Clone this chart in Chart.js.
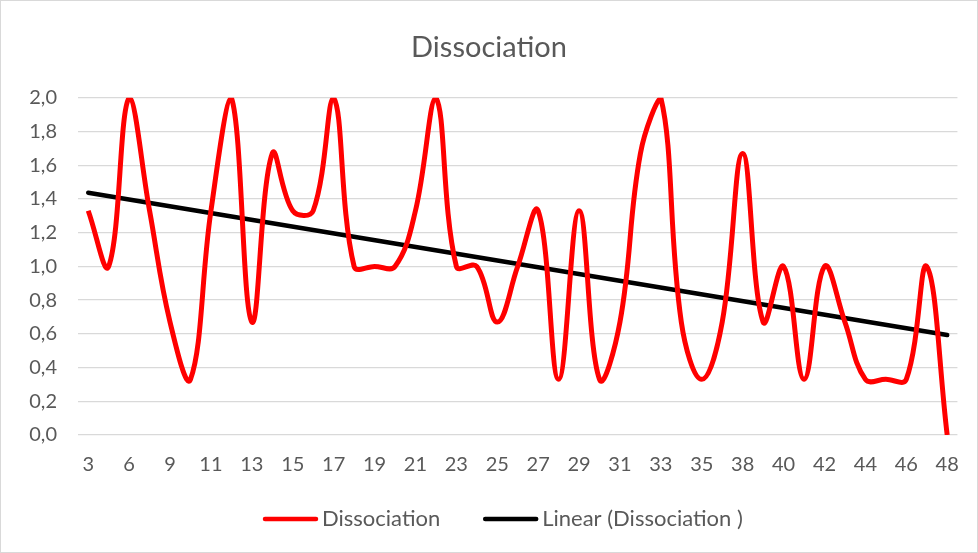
<!DOCTYPE html>
<html lang="en">
<head>
  <meta charset="UTF-8" />
  <title>Dissociation</title>
  <script src="https://cdn.jsdelivr.net/npm/chart.js"></script>
  <style>
    html, body { margin: 0; padding: 0; background: #fff; }
    .wrap {
      width: 976px; height: 551px;
      border: 1px solid #d9d9d9;
      position: relative;
    }
  </style>
</head>
<body>
  <div class="wrap">
    <canvas id="graph"></canvas>
  </div>

  <script>
    // categories (every other one is labelled on the axis)
    const categories = ['3', '5', '6', '8', '9', '10', '11', '12', '13', '14', '15', '16', '17', '18', '19', '20', '21', '22', '23', '24', '25', '26', '27', '28', '29', '30', '31', '32', '33', '34', '35', '37', '38', '39', '40', '41', '42', '43', '44', '45', '46', '47', '48'];

    // Dissociation values
    const dissociation = [1.33, 1.0, 2.0, 1.33, 0.67, 0.33, 1.33, 2.0, 0.67, 1.67,
                          1.33, 1.33, 2.0, 1.0, 1.0, 1.0, 1.33, 2.0, 1.0, 1.0,
                          0.67, 1.0, 1.33, 0.33, 1.33, 0.33, 0.67, 1.67, 2.0, 0.67,
                          0.33, 0.67, 1.67, 0.67, 1.0, 0.33, 1.0, 0.67, 0.33, 0.33,
                          0.33, 1.0, 0.0];

    // trend line end points (first and last category)
    const trendEnds = [1.437, 0.593];

    const yTicks = { min: 0, max: 2, step: 0.2 };

    const textColor = '#595959';
    const fontFamily = 'Lato, "Open Sans", sans-serif';

    // legend drawn under the axis, Excel style (line sample, then text)
    const bottomLegend = {
      id: 'bottomLegend',
      afterDraw(chart) {
        const c = chart.ctx;
        const y = 518;
        let x = 262;
        c.save();
        c.font = '22px ' + fontFamily;
        c.textBaseline = 'middle';
        c.textAlign = 'left';
        chart.data.datasets.forEach((ds, i) => {
          c.strokeStyle = ds.borderColor;
          c.lineWidth = 4.5;
          c.lineCap = 'round';
          c.beginPath();
          c.moveTo(x + 2, y);
          c.lineTo(x + 53, y);
          c.stroke();
          x += 59;
          c.fillStyle = textColor;
          c.fillText(ds.label, x, y);
          x += c.measureText(ds.label).width + 43;
        });
        c.restore();
      }
    };

    const ctx = document.getElementById('graph').getContext('2d');

    const chart = new Chart(ctx, {
      type: 'line',
      data: {
        labels: categories,
        datasets: [
          {
            label: 'Dissociation',
            data: dissociation,
            borderColor: '#ff0000',
            backgroundColor: '#ff0000',
            borderWidth: 5,
            pointRadius: 0,
            tension: 0.4,
            fill: false
          },
          {
            label: 'Linear (Dissociation )',
            data: [
              { x: categories[0], y: trendEnds[0] },
              { x: categories[categories.length - 1], y: trendEnds[1] }
            ],
            borderColor: '#000000',
            backgroundColor: '#000000',
            borderWidth: 4.5,
            borderCapStyle: 'round',
            pointRadius: 0,
            tension: 0,
            fill: false
          }
        ]
      },
      options: {
        responsive: true,
        maintainAspectRatio: false,
        animation: false,
        layout: {
          padding: { left: 18, right: 18, top: 0, bottom: 57 }
        },
        scales: {
          x: {
            offset: true,
            grid: { display: false, drawTicks: false },
            border: { display: false },
            ticks: {
              autoSkip: false,
              maxRotation: 0,
              padding: 18,
              color: textColor,
              font: { family: fontFamily, size: 20 },
              callback: function (value, index) {
                return index % 2 === 0 ? this.getLabelForValue(value) : '';
              }
            }
          },
          y: {
            min: yTicks.min,
            max: yTicks.max,
            grid: { color: '#d9d9d9', lineWidth: 1.3, drawTicks: false },
            border: { display: false },
            afterFit: s => { s.width = 59; },
            ticks: {
              stepSize: yTicks.step,
              padding: 21,
              color: textColor,
              font: { family: fontFamily, size: 20 },
              callback: value => value.toFixed(1).replace('.', ',')
            }
          }
        },
        plugins: {
          title: {
            display: true,
            text: 'Dissociation',
            color: textColor,
            font: { family: fontFamily, size: 29, weight: 'normal' },
            padding: { top: 29, bottom: 33 }
          },
          legend: { display: false },
          tooltip: { enabled: false }
        }
      },
      plugins: [bottomLegend]
    });
  </script>
</body>
</html>
